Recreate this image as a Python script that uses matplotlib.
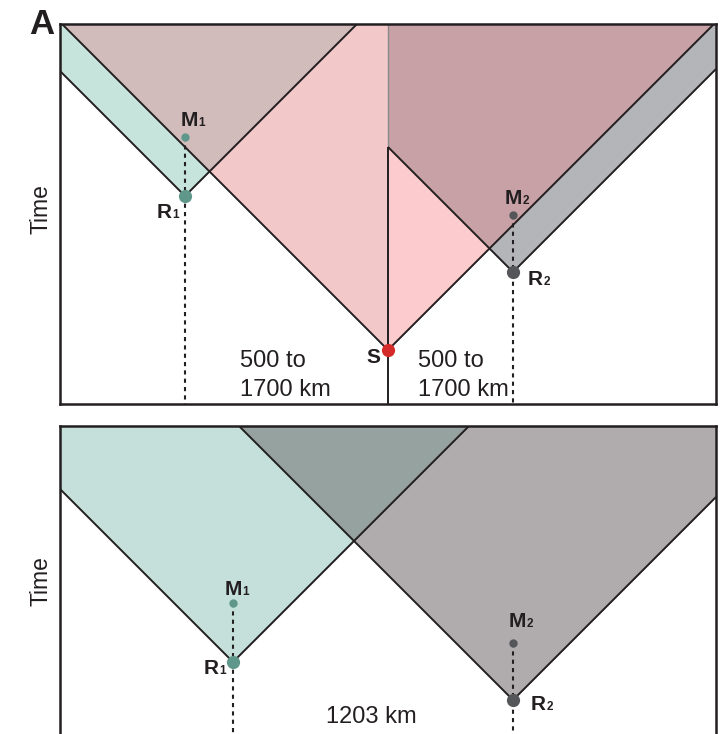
import numpy as np
import matplotlib.pyplot as plt

plt.rcParams['font.family'] = ['Liberation Sans', 'DejaVu Sans']

# ---------- data: x = distance, t = time (arbitrary units, wave speed = 1) ----------
# panel A (source S between two receivers)
top_width, top_height = 656, 380
top_S = [328, 54]                  # source position / origin time
top_rec_x = [125, 453]             # R1, R2 positions
top_rec_t = [208, 132]             # arrival time at R
top_meas_t = [267, 189]            # measurement time M
top_dist_text = ['500 to', '1700 km']

# lower panel (two receivers, no source)
bot_width, bot_height = 656, 308
bot_rec_x = [173, 453]
bot_rec_t = [72, 34]
bot_meas_t = [131, 91]
bot_dist_text = '1203 km'

# colours
c_teal, c_mauve_l, c_pink_l = '#c6e4dc', '#d2bcbb', '#f2c8c9'
c_grey, c_mauve_r, c_pink_r = '#b4b5b8', '#c7a1a6', '#fbcbcd'
c_teal_b, c_mix_b, c_grey_b = '#c5e0da', '#96a29f', '#b0abac'
c_dot1, c_dot2, c_src = '#5f978b', '#55565a', '#d42a2a'
c_ink = '#231f20'


def cone(x, x0, t0):
    return t0 + np.abs(x - x0)


def grid(a, b, extra):
    return np.union1d(np.linspace(a, b, 1500), [v for v in extra if a <= v <= b])


def sub_label(ax, x, t, main, sub, dx, dy):
    # dx, dy in pixels: where the letter ends and the subscript starts
    k = 0.72
    ax.annotate(main, (x, t), xytext=(dx * k, dy * k), textcoords='offset points',
                ha='right', va='baseline', fontsize=15, fontweight='bold', color=c_ink)
    ax.annotate(sub, (x, t), xytext=(dx * k + 0.3, dy * k), textcoords='offset points',
                ha='left', va='baseline', fontsize=8.5, fontweight='bold', color=c_ink)


def frame(ax, w, h, bottom=True):
    ax.set_xlim(0, w)
    ax.set_ylim(0, h)
    ax.set_xticks([])
    ax.set_yticks([])
    for s in ax.spines.values():
        s.set_linewidth(1.8)
        s.set_color(c_ink)
        s.set_zorder(10)
    if not bottom:
        ax.spines['bottom'].set_visible(False)


line_kw = dict(color=c_ink, lw=1.4, zorder=3, solid_capstyle='butt')
dash_kw = dict(color=c_ink, lw=1.5, ls=(0, (2.0, 2.0)), zorder=4)

fig = plt.figure(figsize=(7.25, 7.34), dpi=100)

# ---------- panel A ----------
ax1 = fig.add_axes([60 / 725, 1 - 404 / 734, 656 / 725, 380 / 734])
frame(ax1, top_width, top_height)
H = top_height
sx, st = top_S

# left half: S with R1
xl = grid(0, sx, [top_rec_x[0]])
s_l = cone(xl, sx, st)
r1 = cone(xl, top_rec_x[0], top_rec_t[0])
ax1.fill_between(xl, np.minimum(s_l, H), H, color=c_pink_l, lw=0, zorder=1)
ax1.fill_between(xl, np.minimum(r1, H), H, color=c_teal, lw=0, zorder=1)
ax1.fill_between(xl, np.minimum(np.maximum(s_l, r1), H), H, color=c_mauve_l, lw=0, zorder=1)
ax1.plot(xl, s_l, **line_kw)
ax1.plot(xl, r1, **line_kw)

# right half: S with R2
xr = grid(sx, top_width, [top_rec_x[1]])
s_r = cone(xr, sx, st)
r2 = cone(xr, top_rec_x[1], top_rec_t[1])
ax1.fill_between(xr, np.minimum(s_r, H), H, color=c_pink_r, lw=0, zorder=1)
ax1.fill_between(xr, np.minimum(r2, H), H, color=c_grey, lw=0, zorder=1)
ax1.fill_between(xr, np.minimum(np.maximum(s_r, r2), H), H, color=c_mauve_r, lw=0, zorder=1)
ax1.plot(xr, s_r, **line_kw)
ax1.plot(xr, r2, **line_kw)

# split line at the source
t_join = cone(sx, top_rec_x[1], top_rec_t[1])
ax1.plot([sx, sx], [0, t_join], **line_kw)
ax1.plot([sx, sx], [t_join, H], color='#8a8a8c', lw=1.0, zorder=2)

# receivers and measurements
cols = [c_dot1, c_dot2]
for x, tr, tm, c in zip(top_rec_x, top_rec_t, top_meas_t, cols):
    ax1.plot([x, x], [tm, 0], **dash_kw)
    ax1.plot(x, tm, 'o', ms=6, color=c, mec='none', zorder=5)
    ax1.plot(x, tr, 'o', ms=9.5, color=c, mec='none', zorder=5)
ax1.plot(sx, st, 'o', ms=9.5, color=c_src, mec='none', zorder=6)

sub_label(ax1, top_rec_x[0], top_meas_t[0], 'M', '1', 13, 11)
sub_label(ax1, top_rec_x[0], top_rec_t[0], 'R', '1', -13, -22)
sub_label(ax1, top_rec_x[1], top_meas_t[1], 'M', '2', 9, 11)
sub_label(ax1, top_rec_x[1], top_rec_t[1], 'R', '2', 30, -13)
ax1.annotate('S', (sx, st), xytext=(-8 * 0.72, -13 * 0.72), textcoords='offset points',
             ha='right', va='baseline', fontsize=15, fontweight='bold', color=c_ink)

for i, txt in enumerate(top_dist_text):
    ax1.text(180, 37 - 29 * i, txt, fontsize=17, ha='left', va='baseline', color=c_ink)
    ax1.text(358, 37 - 29 * i, txt, fontsize=17, ha='left', va='baseline', color=c_ink)

# ---------- lower panel ----------
ax2 = fig.add_axes([60 / 725, 0, 656 / 725, 308 / 734])
frame(ax2, bot_width, bot_height, bottom=False)
H2 = bot_height
xb = grid(0, bot_width, bot_rec_x)
c1 = cone(xb, bot_rec_x[0], bot_rec_t[0])
c2 = cone(xb, bot_rec_x[1], bot_rec_t[1])
ax2.fill_between(xb, np.minimum(c1, H2), H2, color=c_teal_b, lw=0, zorder=1)
ax2.fill_between(xb, np.minimum(c2, H2), H2, color=c_grey_b, lw=0, zorder=1)
ax2.fill_between(xb, np.minimum(np.maximum(c1, c2), H2), H2, color=c_mix_b, lw=0, zorder=1)
ax2.plot(xb, c1, **line_kw)
ax2.plot(xb, c2, **line_kw)

for x, tr, tm, c in zip(bot_rec_x, bot_rec_t, bot_meas_t, cols):
    ax2.plot([x, x], [tm, -5], **dash_kw)
    ax2.plot(x, tm, 'o', ms=6, color=c, mec='none', zorder=5)
    ax2.plot(x, tr, 'o', ms=9.5, color=c, mec='none', zorder=5)

sub_label(ax2, bot_rec_x[0], bot_meas_t[0], 'M', '1', 9, 8)
sub_label(ax2, bot_rec_x[0], bot_rec_t[0], 'R', '1', -14, -12)
sub_label(ax2, bot_rec_x[1], bot_meas_t[1], 'M', '2', 13, 16)
sub_label(ax2, bot_rec_x[1], bot_rec_t[1], 'R', '2', 33, -10)
ax2.text(266, 11, bot_dist_text, fontsize=17, ha='left', va='baseline', color=c_ink)

# axis labels and panel letter
fig.text(41 / 725, 1 - 209 / 734, 'Time', rotation=90, ha='center', va='center',
         fontsize=16.5, color=c_ink)
fig.text(41 / 725, 1 - 581 / 734, 'Time', rotation=90, ha='center', va='center',
         fontsize=16.5, color=c_ink)
fig.text(29 / 725, 1 - 34 / 734, 'A', ha='left', va='baseline', fontsize=25,
         fontweight='bold', color=c_ink)

fig.savefig('out.png', dpi=100)
